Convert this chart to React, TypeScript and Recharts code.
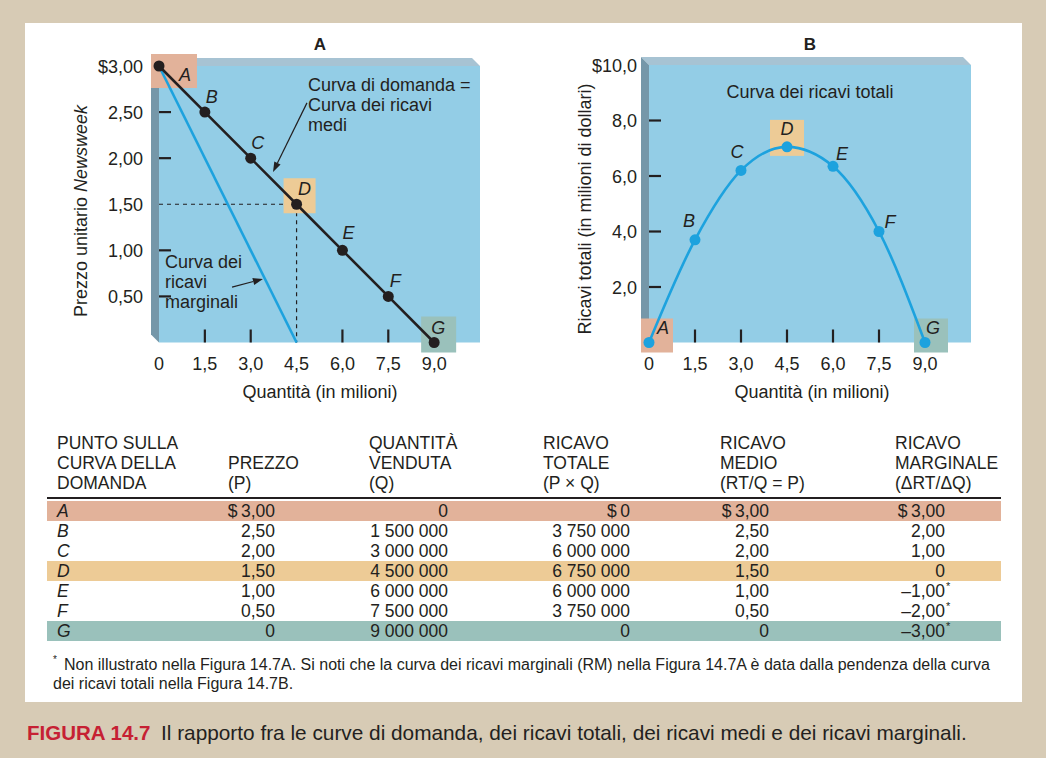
import React from 'react';
import { LineChart, Line, XAxis, YAxis, ReferenceArea, ReferenceLine } from 'recharts';

// punti sulla curva di domanda
const POINTS = ['A', 'B', 'C', 'D', 'E', 'F', 'G'];
const QUANTITY = [0, 1.5, 3, 4.5, 6, 7.5, 9];
const PRICE = [3, 2.5, 2, 1.5, 1, 0.5, 0];
// ricavi totali come disegnati nel pannello B (milioni di dollari)
const TOTAL_REVENUE = [0, 3.7, 6.2, 7.05, 6.35, 4.0, 0];
// curva dei ricavi marginali (pannello A)
const MR_QUANTITY = [0, 4.5];
const MR_PRICE = [3, 0];

const X_TICKS = [0, 1.5, 3, 4.5, 6, 7.5, 9];
const X_TICK_LABELS = ['0', '1,5', '3,0', '4,5', '6,0', '7,5', '9,0'];
const PRICE_TICKS = [0.5, 1, 1.5, 2, 2.5, 3];
const PRICE_TICK_LABELS = ['0,50', '1,00', '1,50', '2,00', '2,50', '$3,00'];
const REV_TICKS = [2, 4, 6, 8, 10];
const REV_TICK_LABELS = ['2,0', '4,0', '6,0', '8,0', '$10,0'];

// tabella
const HEADERS = [
  ['PUNTO SULLA', 'CURVA DELLA', 'DOMANDA'],
  ['', 'PREZZO', '(P)'],
  ['QUANTITÀ', 'VENDUTA', '(Q)'],
  ['RICAVO', 'TOTALE', '(P × Q)'],
  ['RICAVO', 'MEDIO', '(RT/Q = P)'],
  ['RICAVO', 'MARGINALE', '(ΔRT/ΔQ)'],
];
const T_PRICE = ['$\u20093,00', '2,50', '2,00', '1,50', '1,00', '0,50', '0'];
const T_QTY = ['0', '1\u00a0500\u00a0000', '3\u00a0000\u00a0000', '4\u00a0500\u00a0000', '6\u00a0000\u00a0000', '7\u00a0500\u00a0000', '9\u00a0000\u00a0000'];
const T_TOTAL = ['$\u20090', '3\u00a0750\u00a0000', '6\u00a0000\u00a0000', '6\u00a0750\u00a0000', '6\u00a0000\u00a0000', '3\u00a0750\u00a0000', '0'];
const T_AVG = ['$\u20093,00', '2,50', '2,00', '1,50', '1,00', '0,50', '0'];
const T_MARG = ['$\u20093,00', '2,00', '1,00', '0', '–1,00', '–2,00', '–3,00'];
const T_NOTE = [false, false, false, false, true, true, true];

const ARROW_DEMAND = [{ x: 4.84, y: 2.6 }, { x: 3.73, y: 1.85 }];
const ARROW_MR = [{ x: 2.39, y: 0.6 }, { x: 3.4, y: 0.69 }];

const INK = '#231f20';
const BLUE = '#1da2de';
const FONT = "'Liberation Sans', Arial, Helvetica, sans-serif";
const FS = 18;
const HIGHLIGHT: Record<string, string> = { A: '#e2b29a', D: '#edcb96', G: '#9ac1bb' };

// box offsets [dx, dy, w, h] and label offsets [dx, dy] relative to the point
const BOX_A: Record<string, number[]> = { A: [-8, -12, 46, 34], D: [-13, -26, 32, 35], G: [-13, -26, 35, 36] };
const BOX_B: Record<string, number[]> = { A: [-8, -24, 32, 34], D: [-17, -27, 34, 36], G: [-11, -24, 34, 34] };
const LBL_A: Record<string, number[]> = { A: [26, 9], B: [7, -15], C: [7, -15], D: [8, -15], E: [6, -17], F: [7, -15], G: [4, -15] };
const LBL_B: Record<string, number[]> = { A: [14, -15], B: [-6, -19], C: [-4, -18], D: [0, -18], E: [9, -12], F: [11, -10], G: [8, -15] };

const demandData = POINTS.map((id, i) => ({ id, q: QUANTITY[i], p: PRICE[i] }));
const revenueData = POINTS.map((id, i) => ({ id, q: QUANTITY[i], r: TOTAL_REVENUE[i] }));
const mrData = MR_QUANTITY.map((q, i) => ({ q, p: MR_PRICE[i] }));

const Slab = (props: any) => {
  const { x, y, width, height } = props;
  const d = 8;
  return (
    <g>
      <polygon points={`${x - d},${y - d} ${x + width - d},${y - d} ${x + width},${y} ${x},${y}`} fill="#a7c3d3" />
      <polygon points={`${x - d},${y - d} ${x},${y} ${x},${y + height} ${x - d},${y + height - d}`} fill="#7597a9" />
      <rect x={x} y={y} width={width} height={height} fill="#93cde6" />
    </g>
  );
};

// dashed guides: top edge and right edge of the area under point D
const Guides = (props: any) => {
  const { x, y, width, height } = props;
  return (
    <g stroke={INK} strokeWidth={1.2} strokeDasharray="4 4" fill="none">
      <line x1={x} y1={y} x2={x + width} y2={y} />
      <line x1={x + width} y1={y} x2={x + width} y2={y + height} />
    </g>
  );
};

const boxShape = (id: string, boxes: Record<string, number[]>) => (props: any) => {
  const { x, y } = props;
  const o = boxes[id];
  return <rect x={x + o[0]} y={y + o[1]} width={o[2]} height={o[3]} fill={HIGHLIGHT[id]} />;
};

const Arrow = (props: any) => {
  const { x1, y1, x2, y2 } = props;
  const a = Math.atan2(y2 - y1, x2 - x1);
  const len = 10;
  const w = 3.5;
  const bx = x2 - len * Math.cos(a);
  const by = y2 - len * Math.sin(a);
  const px = -Math.sin(a) * w;
  const py = Math.cos(a) * w;
  return (
    <g>
      <line x1={x1} y1={y1} x2={bx} y2={by} stroke={INK} strokeWidth={1.2} />
      <polygon points={`${x2},${y2} ${bx + px},${by + py} ${bx - px},${by - py}`} fill={INK} />
    </g>
  );
};

const pointDot = (color: string, labels: Record<string, number[]>) => (props: any) => {
  const { cx, cy, payload, index } = props;
  const o = labels[payload.id];
  return (
    <g key={`p-${index}`}>
      <circle cx={cx} cy={cy} r={5.5} fill={color} />
      <text x={cx + o[0]} y={cy + o[1] + 6} textAnchor="middle" fontSize={FS} fontStyle="italic" fill={INK} fontFamily={FONT}>
        {payload.id}
      </text>
    </g>
  );
};

const xTick = (skip: number[]) => (props: any) => {
  const { x, y, payload } = props;
  const i = X_TICKS.indexOf(payload.value);
  return (
    <g>
      {skip.indexOf(payload.value) < 0 && <line x1={x} x2={x} y1={y - 13} y2={y} stroke={INK} strokeWidth={2.2} />}
      <text x={x} y={y + 27} textAnchor="middle" fontSize={FS} fill={INK} fontFamily={FONT}>
        {X_TICK_LABELS[i]}
      </text>
    </g>
  );
};

const yTick = (ticks: number[], labels: string[], skip: number[], gap: number) => (props: any) => {
  const { x, y, payload } = props;
  const i = ticks.indexOf(payload.value);
  return (
    <g>
      {skip.indexOf(payload.value) < 0 && <line x1={x} x2={x + 12} y1={y} y2={y} stroke={INK} strokeWidth={2.2} />}
      <text x={x - gap} y={y + 6.5} textAnchor="end" fontSize={FS} fill={INK} fontFamily={FONT}>
        {labels[i]}
      </text>
    </g>
  );
};

const abs = (left: number, top: number, extra: React.CSSProperties = {}): React.CSSProperties => ({
  position: 'absolute',
  left,
  top,
  ...extra,
});

const COL_LEFT = [57, 228, 369, 543, 720, 895];
const VAL_END = [275, 448, 630, 769, 945];

export default function App() {
  const rows = [T_PRICE, T_QTY, T_TOTAL, T_AVG, T_MARG];
  const marked = POINTS.map((id, i) => ({ id, i })).filter((d) => HIGHLIGHT[d.id]);
  return (
    <div
      style={{
        position: 'fixed',
        left: 0,
        top: 0,
        width: 1046,
        height: 758,
        background: '#d7cbb5',
        fontFamily: FONT,
        color: INK,
        overflow: 'hidden',
      }}
    >
      <div style={abs(25, 23, { width: 997, height: 679, background: '#fff' })} />

      {/* Pannello A */}
      <div style={abs(0, 0)}>
        <LineChart width={500} height={420} margin={{ top: 66, right: 20, bottom: 27.5, left: 99 }}>
          <XAxis
            type="number"
            dataKey="q"
            domain={[0, 10.5]}
            ticks={X_TICKS}
            interval={0}
            axisLine={false}
            tickLine={false}
            tickSize={0}
            tickMargin={0}
            height={50}
            tick={xTick([0, 4.5, 9])}
          />
          <YAxis
            type="number"
            domain={[0, 3]}
            ticks={PRICE_TICKS}
            interval={0}
            axisLine={false}
            tickLine={false}
            tickSize={0}
            tickMargin={0}
            width={60}
            tick={yTick(PRICE_TICKS, PRICE_TICK_LABELS, [1.5, 3], 16)}
          />
          <ReferenceArea x1={0} x2={10.5} y1={0} y2={3} shape={Slab} />
          <ReferenceArea x1={0} x2={QUANTITY[3]} y1={0} y2={PRICE[3]} shape={Guides} />
          {marked.map(({ id, i }) => (
            <ReferenceArea
              key={id}
              x1={QUANTITY[i]}
              x2={QUANTITY[i]}
              y1={PRICE[i]}
              y2={PRICE[i]}
              shape={boxShape(id, BOX_A)}
            />
          ))}
          <Line data={mrData} dataKey="p" stroke={BLUE} strokeWidth={2.6} dot={false} activeDot={false} isAnimationActive={false} />
          <Line
            data={demandData}
            dataKey="p"
            stroke={INK}
            strokeWidth={2.6}
            dot={pointDot(INK, LBL_A)}
            activeDot={false}
            isAnimationActive={false}
          />
          <ReferenceLine segment={ARROW_DEMAND} shape={Arrow} />
          <ReferenceLine segment={ARROW_MR} shape={Arrow} />
        </LineChart>
      </div>

      <div style={abs(320, 35, { transform: 'translateX(-50%)', fontWeight: 'bold', fontSize: 17 })}>A</div>
      <div style={abs(308, 75, { fontSize: FS, lineHeight: '20px', whiteSpace: 'nowrap' })}>
        Curva di domanda =<br />
        Curva dei ricavi
        <br />
        medi
      </div>
      <div style={abs(165, 252, { fontSize: FS, lineHeight: '20px', whiteSpace: 'nowrap' })}>
        Curva dei
        <br />
        ricavi
        <br />
        marginali
      </div>
      <div style={abs(320, 382, { transform: 'translateX(-50%)', fontSize: FS, whiteSpace: 'nowrap' })}>Quantità (in milioni)</div>
      <div
        style={abs(81, 211, {
          transform: 'translate(-50%, -50%) rotate(-90deg)',
          fontSize: FS,
          whiteSpace: 'nowrap',
        })}
      >
        Prezzo unitario <i>Newsweek</i>
      </div>

      {/* Pannello B */}
      <div style={abs(500, 0)}>
        <LineChart width={500} height={420} margin={{ top: 65, right: 29, bottom: 27.5, left: 89 }}>
          <XAxis
            type="number"
            dataKey="q"
            domain={[0, 10.5]}
            ticks={X_TICKS}
            interval={0}
            axisLine={false}
            tickLine={false}
            tickSize={0}
            tickMargin={0}
            height={50}
            tick={xTick([0, 9])}
          />
          <YAxis
            type="number"
            domain={[0, 10]}
            ticks={REV_TICKS}
            interval={0}
            axisLine={false}
            tickLine={false}
            tickSize={0}
            tickMargin={0}
            width={60}
            tick={yTick(REV_TICKS, REV_TICK_LABELS, [10], 12)}
          />
          <ReferenceArea x1={0} x2={10.5} y1={0} y2={10} shape={Slab} />
          {marked.map(({ id, i }) => (
            <ReferenceArea
              key={id}
              x1={QUANTITY[i]}
              x2={QUANTITY[i]}
              y1={TOTAL_REVENUE[i]}
              y2={TOTAL_REVENUE[i]}
              shape={boxShape(id, BOX_B)}
            />
          ))}
          <Line
            data={revenueData}
            dataKey="r"
            type="monotone"
            stroke={BLUE}
            strokeWidth={2.6}
            dot={pointDot(BLUE, LBL_B)}
            activeDot={false}
            isAnimationActive={false}
          />
        </LineChart>
      </div>

      <div style={abs(810, 35, { transform: 'translateX(-50%)', fontWeight: 'bold', fontSize: 17 })}>B</div>
      <div style={abs(810, 82, { transform: 'translateX(-50%)', fontSize: FS, whiteSpace: 'nowrap' })}>Curva dei ricavi totali</div>
      <div style={abs(812, 382, { transform: 'translateX(-50%)', fontSize: FS, whiteSpace: 'nowrap' })}>Quantità (in milioni)</div>
      <div
        style={abs(585, 209, {
          transform: 'translate(-50%, -50%) rotate(-90deg)',
          fontSize: FS,
          whiteSpace: 'nowrap',
        })}
      >
        Ricavi totali (in milioni di dollari)
      </div>

      {/* Tabella */}
      {HEADERS.map((h, c) => (
        <div key={c} style={abs(COL_LEFT[c], 433, { fontSize: 17.5, lineHeight: '20px', whiteSpace: 'nowrap' })}>
          {h.map((line, k) => (
            <div key={k} style={{ height: 20 }}>
              {line}
            </div>
          ))}
        </div>
      ))}
      <div style={abs(47, 497, { width: 954, height: 2, background: INK })} />
      {POINTS.map((id, r) => (
        <div
          key={id}
          style={abs(47, 501 + r * 20, {
            width: 954,
            height: 20,
            background: HIGHLIGHT[id] || 'transparent',
            fontSize: 17.5,
            lineHeight: '20px',
          })}
        >
          <span style={abs(10, 0, { fontStyle: 'italic' })}>{id}</span>
          {rows.map((col, c) => (
            <span
              key={c}
              style={abs(VAL_END[c] - 47 - 150, 0, { width: 150, textAlign: 'right', whiteSpace: 'nowrap' })}
            >
              {col[r]}
            </span>
          ))}
          {T_NOTE[r] && <span style={abs(VAL_END[4] - 47 + 1, -5, { fontSize: 11 })}>*</span>}
        </div>
      ))}

      <div style={abs(53, 654, { fontSize: 10, lineHeight: '12px' })}>*</div>
      <div style={abs(64, 655, { fontSize: 16, lineHeight: '19px', whiteSpace: 'nowrap' })}>
        Non illustrato nella Figura 14.7A. Si noti che la curva dei ricavi marginali (RM) nella Figura 14.7A è data dalla pendenza della curva
      </div>
      <div style={abs(53, 674, { fontSize: 16, lineHeight: '19px', whiteSpace: 'nowrap' })}>
        dei ricavi totali nella Figura 14.7B.
      </div>

      <div style={abs(27, 720, { fontSize: 20.5, lineHeight: '26px', whiteSpace: 'nowrap' })}>
        <span style={{ color: '#c62033', fontWeight: 'bold' }}>FIGURA 14.7</span>
      </div>
      <div style={abs(161, 720, { fontSize: 20.8, lineHeight: '26px', whiteSpace: 'nowrap' })}>
        Il rapporto fra le curve di domanda, dei ricavi totali, dei ricavi medi e dei ricavi marginali.
      </div>
    </div>
  );
}
